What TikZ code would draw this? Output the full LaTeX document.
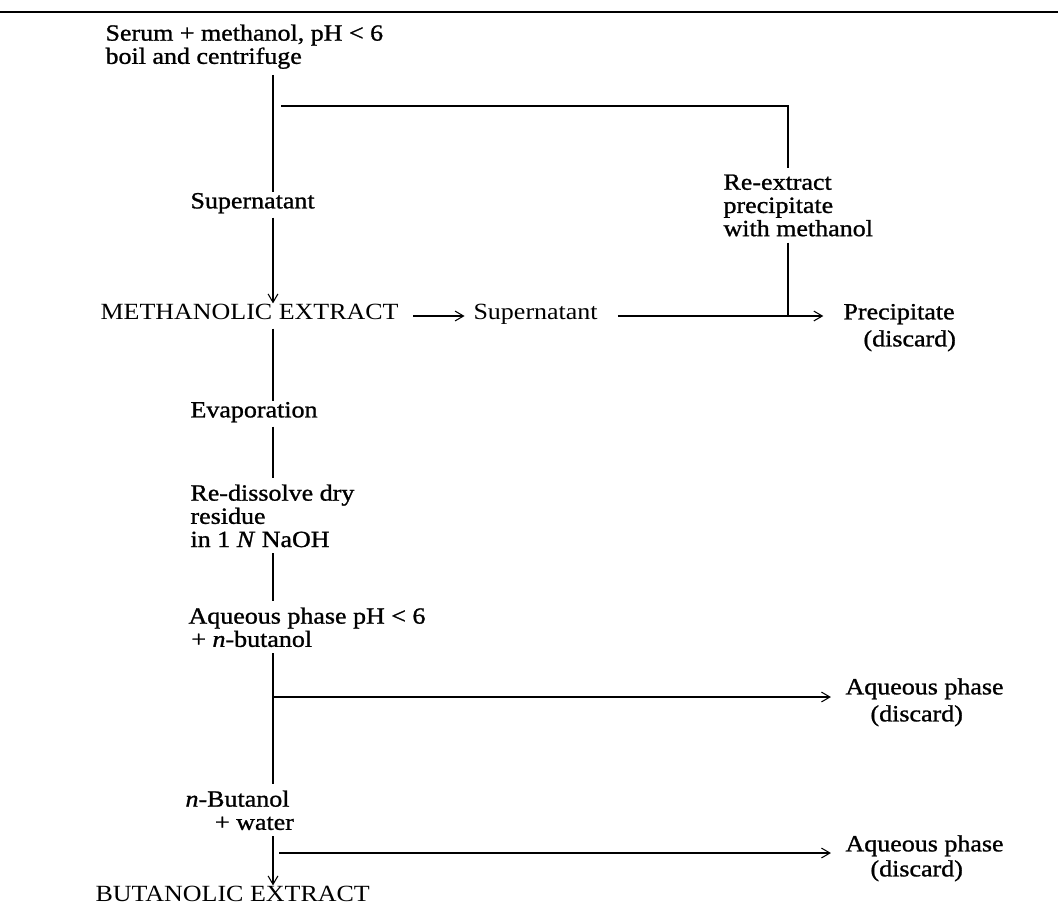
\documentclass[tikz,border=0pt]{standalone}
\usepackage{fontspec}
\setmainfont{Liberation Serif}[FakeStretch=1.12]
\newfontfamily\heavy{Liberation Serif}[FakeStretch=1.12, FakeBold=1.1]
\usetikzlibrary{arrows.meta,positioning,calc}

% stacked labels keep a fixed line pitch
\lineskiplimit=-10pt

\tikzset{
  lbl/.style={inner sep=0pt, anchor=north west, text height=0.7em, text depth=0.22em},
  blk/.style={inner sep=0pt, anchor=north west, align=left},
  reg/.style={font=\fontsize{16.5}{16.5}\selectfont},
  hvy/.style={font=\heavy\fontsize{16.5}{16.5}\selectfont},
  link/.style={shorten <=4pt, shorten >=4pt},
}

\begin{document}
\begin{tikzpicture}[x=0.025cm, y=-0.025cm, line width=0.75pt,
    >={Straight Barb[length=6pt,width=7pt]}]
    \useasboundingbox (0,0) rectangle (1058,917);

    % rule across the top
    \draw[line width=1pt] (0,12) -- (1058,12);

    % main column
    \node[blk,hvy] (serum) at (105,24) {Serum + methanol, pH < 6\\boil and centrifuge};
    \node[lbl,hvy] (sup1) at (190,198) {Supernatant};
    \node[lbl,reg] (meth) at (100,309) {METHANOLIC EXTRACT};
    \node[lbl,hvy] (evap) at (190,407) {Evaporation};
    \node[blk,hvy] (redis) at (190,484) {Re-dissolve dry\\residue\\in 1 \emph{N} NaOH};
    \node[blk,hvy] (aq) at (188,607) {Aqueous phase pH < 6\\\hspace*{2pt}+ \emph{n}-butanol};
    \node[blk,hvy] (nbut) at (185,790) {\emph{n}-Butanol\\\hspace*{21pt}+ water};
    \node[lbl,reg] (butex) at (95,891) {BUTANOLIC EXTRACT};

    % side products
    \node[lbl,reg] (sup2) at (473,309) {Supernatant};
    \node[blk,hvy] (reext) at (723,174) {Re-extract\\precipitate\\with methanol};
    \node[lbl,hvy] (prec) at (843,309) {Precipitate};
    \node[lbl,hvy] (precd) at (863,336) {(discard)};
    \node[lbl,hvy] (aqd1) at (845,684) {Aqueous phase};
    \node[lbl,hvy] (aqd1d) at (870,711) {(discard)};
    \node[lbl,hvy] (aqd2) at (845,841) {Aqueous phase};
    \node[lbl,hvy] (aqd2d) at (870,866) {(discard)};

    \coordinate (axis) at (273,0);
    \coordinate (back) at (281,106);
    \coordinate (turn) at (788,106);
    \coordinate (split1) at (273,697);
    \coordinate (split2) at (279,853);

    % down the main column
    \draw[link] (axis |- serum.south) -- (axis |- sup1.north);
    \draw[link,->] (axis |- sup1.south) -- (axis |- meth.north);
    \draw[link] (axis |- meth.south) -- (axis |- evap.north);
    \draw[link] (axis |- evap.south) -- (axis |- redis.north);
    \draw[link] (axis |- redis.south) -- (axis |- aq.north);
    \draw[link] (axis |- aq.south) -- (axis |- nbut.north);
    \draw[link,->] (axis |- nbut.south) -- (axis |- butex.north);

    % re-extraction loop
    \draw[shorten >=4pt] (back) -- (turn) -- (turn |- reext.north);
    \draw[shorten <=4pt] (turn |- reext.south) -- (turn |- sup2.east);

    % across
    \draw[->, shorten <=10pt, shorten >=6pt] (meth.east) -- (meth.east -| sup2.west);
    \draw[->, shorten <=14pt, shorten >=14pt] (sup2.east) -- (prec.west);
    \draw[->, shorten >=10pt] (split1) -- (split1 -| aqd1.west);
    \draw[->, shorten >=10pt] (split2) -- (split2 -| aqd2.west);
\end{tikzpicture}
\end{document}
